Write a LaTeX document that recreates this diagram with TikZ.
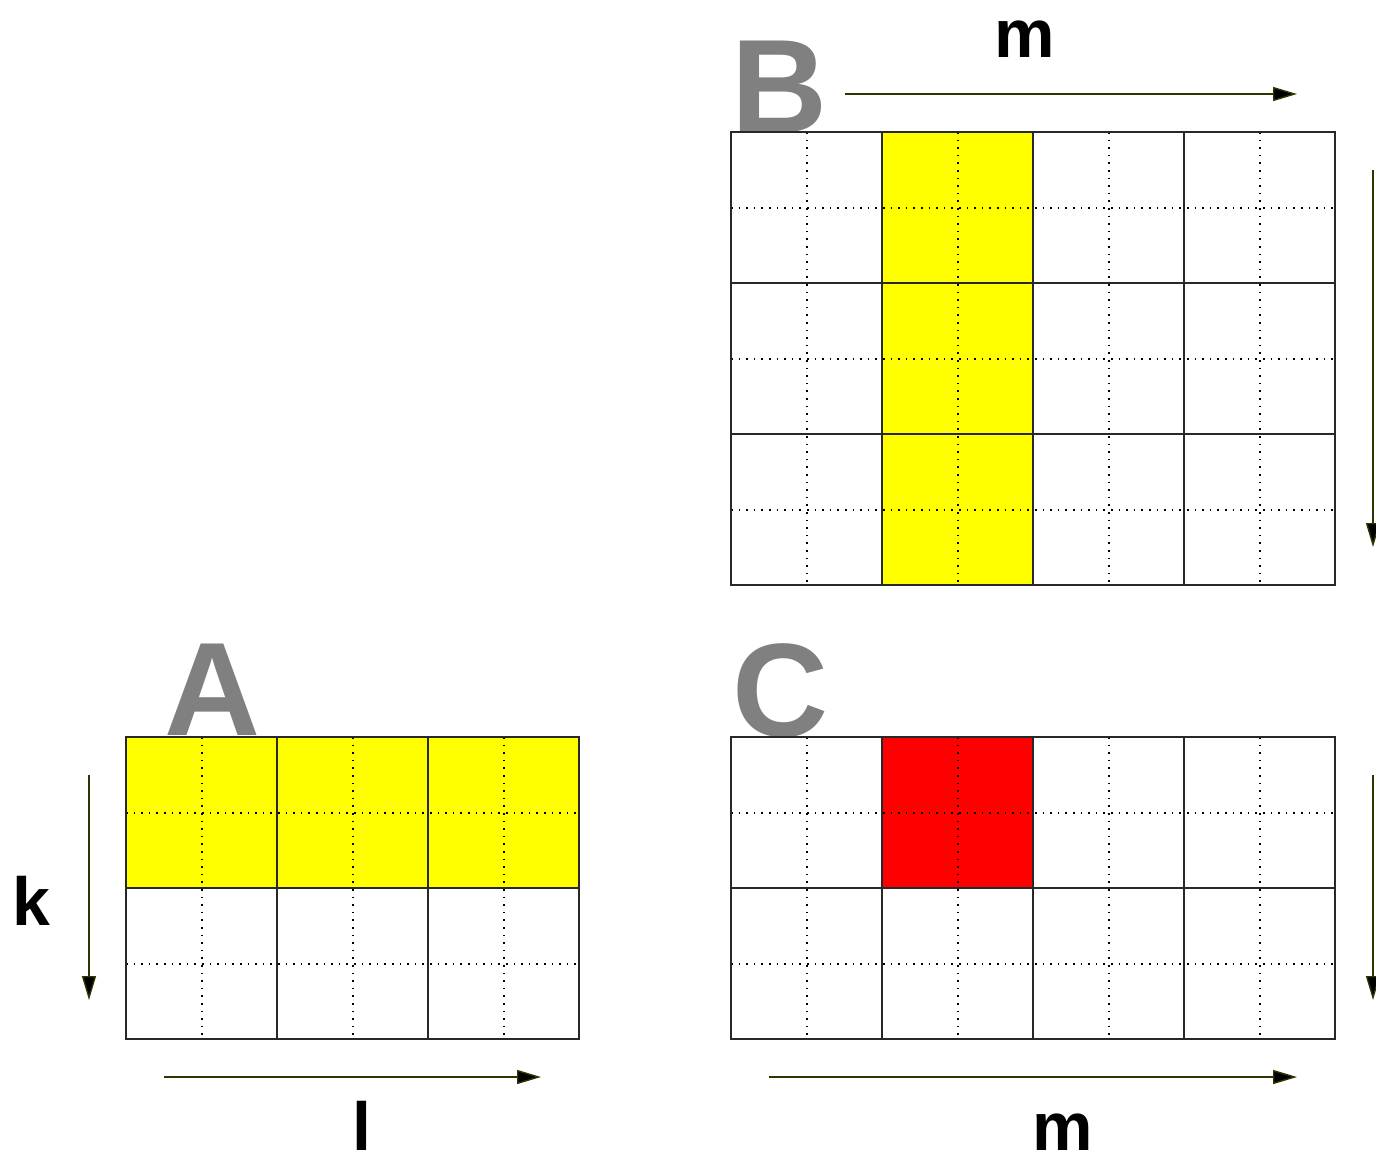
\documentclass[tikz,border=0pt]{standalone}
\usepackage{fontspec}
\setmainfont{Liberation Sans}
\usetikzlibrary{arrows.meta}
\definecolor{axiscol}{RGB}{51,51,0}
\definecolor{lettergray}{RGB}{128,128,128}
\definecolor{gridcol}{RGB}{40,40,40}
\definecolor{hiyellow}{RGB}{255,255,0}
\definecolor{hired}{RGB}{255,0,0}
\tikzset{
  gridline/.style={draw=gridcol, line width=1.2pt},
  subline/.style={draw=black, line width=1.4pt, dash pattern=on 1.6pt off 6pt},
  axisarrow/.style={draw=axiscol, line width=1.4pt, -{Triangle[length=24pt,width=14pt,fill=black]}},
  biglabel/.style={text=lettergray, font=\fontsize{133}{140}\selectfont\bfseries, inner sep=0pt, anchor=base},
  dimlabel/.style={text=black, font=\fontsize{68}{72}\selectfont\bfseries, inner sep=0pt, anchor=base},
}
\begin{document}
\begin{tikzpicture}[x=1pt,y=-1pt]
\useasboundingbox (0,0) rectangle (1376,1154);
% big grey matrix letters (behind grids)
\node[biglabel] (labB) at (780,132) {B};
\node[biglabel] (labA) at (213,735) {A};
\node[biglabel] (labC) at (781,736) {C};

% ---------- Matrix A ----------
\fill[hiyellow] (126,737) rectangle (579,888);
\foreach \x in {202,353,504} \draw[subline] (\x,737) -- (\x,1039);
\foreach \y in {813,964} \draw[subline] (126,\y) -- (579,\y);
\draw[gridline] (126,737) rectangle (579,1039);
\foreach \x in {277,428} \draw[gridline] (\x,737) -- (\x,1039);
\draw[gridline] (126,888) -- (579,888);

% ---------- Matrix B ----------
\fill[hiyellow] (882,132) rectangle (1033,585);
\foreach \x in {807,958,1109,1260} \draw[subline] (\x,132) -- (\x,585);
\foreach \y in {208,359,510} \draw[subline] (731,\y) -- (1335,\y);
\draw[gridline] (731,132) rectangle (1335,585);
\foreach \x in {882,1033,1184} \draw[gridline] (\x,132) -- (\x,585);
\foreach \y in {283,434} \draw[gridline] (731,\y) -- (1335,\y);

% ---------- Matrix C ----------
\fill[hired] (882,737) rectangle (1033,888);
\foreach \x in {807,958,1109,1260} \draw[subline] (\x,737) -- (\x,1039);
\foreach \y in {813,964} \draw[subline] (731,\y) -- (1335,\y);
\draw[gridline] (731,737) rectangle (1335,1039);
\foreach \x in {882,1033,1184} \draw[gridline] (\x,737) -- (\x,1039);
\draw[gridline] (731,888) -- (1335,888);

% ---------- axis arrows ----------
\coordinate (bTopS) at (845,94);   \coordinate (bTopE) at (1297,94);
\coordinate (bRightS) at (1373,170); \coordinate (bRightE) at (1373,547);
\coordinate (cRightS) at (1373,775); \coordinate (cRightE) at (1373,1000);
\coordinate (cBotS) at (769,1077); \coordinate (cBotE) at (1297,1077);
\coordinate (aLeftS) at (89,775); \coordinate (aLeftE) at (89,1000);
\coordinate (aBotS) at (164,1077); \coordinate (aBotE) at (541,1077);
\draw[axisarrow] (bTopS) -- (bTopE);
\draw[axisarrow] (bRightS) -- (bRightE);
\draw[axisarrow] (cRightS) -- (cRightE);
\draw[axisarrow] (cBotS) -- (cBotE);
\draw[axisarrow] (aLeftS) -- (aLeftE);
\draw[axisarrow] (aBotS) -- (aBotE);

% ---------- dimension labels ----------
\node[dimlabel] (mTop) at (1025,57) {m};
\node[dimlabel] (mBot) at (1063,1150) {m};
\node[dimlabel] (kLab) at (31,925) {k};
\node[dimlabel] (lLab) at (362,1150) {l};
\end{tikzpicture}
\end{document}
